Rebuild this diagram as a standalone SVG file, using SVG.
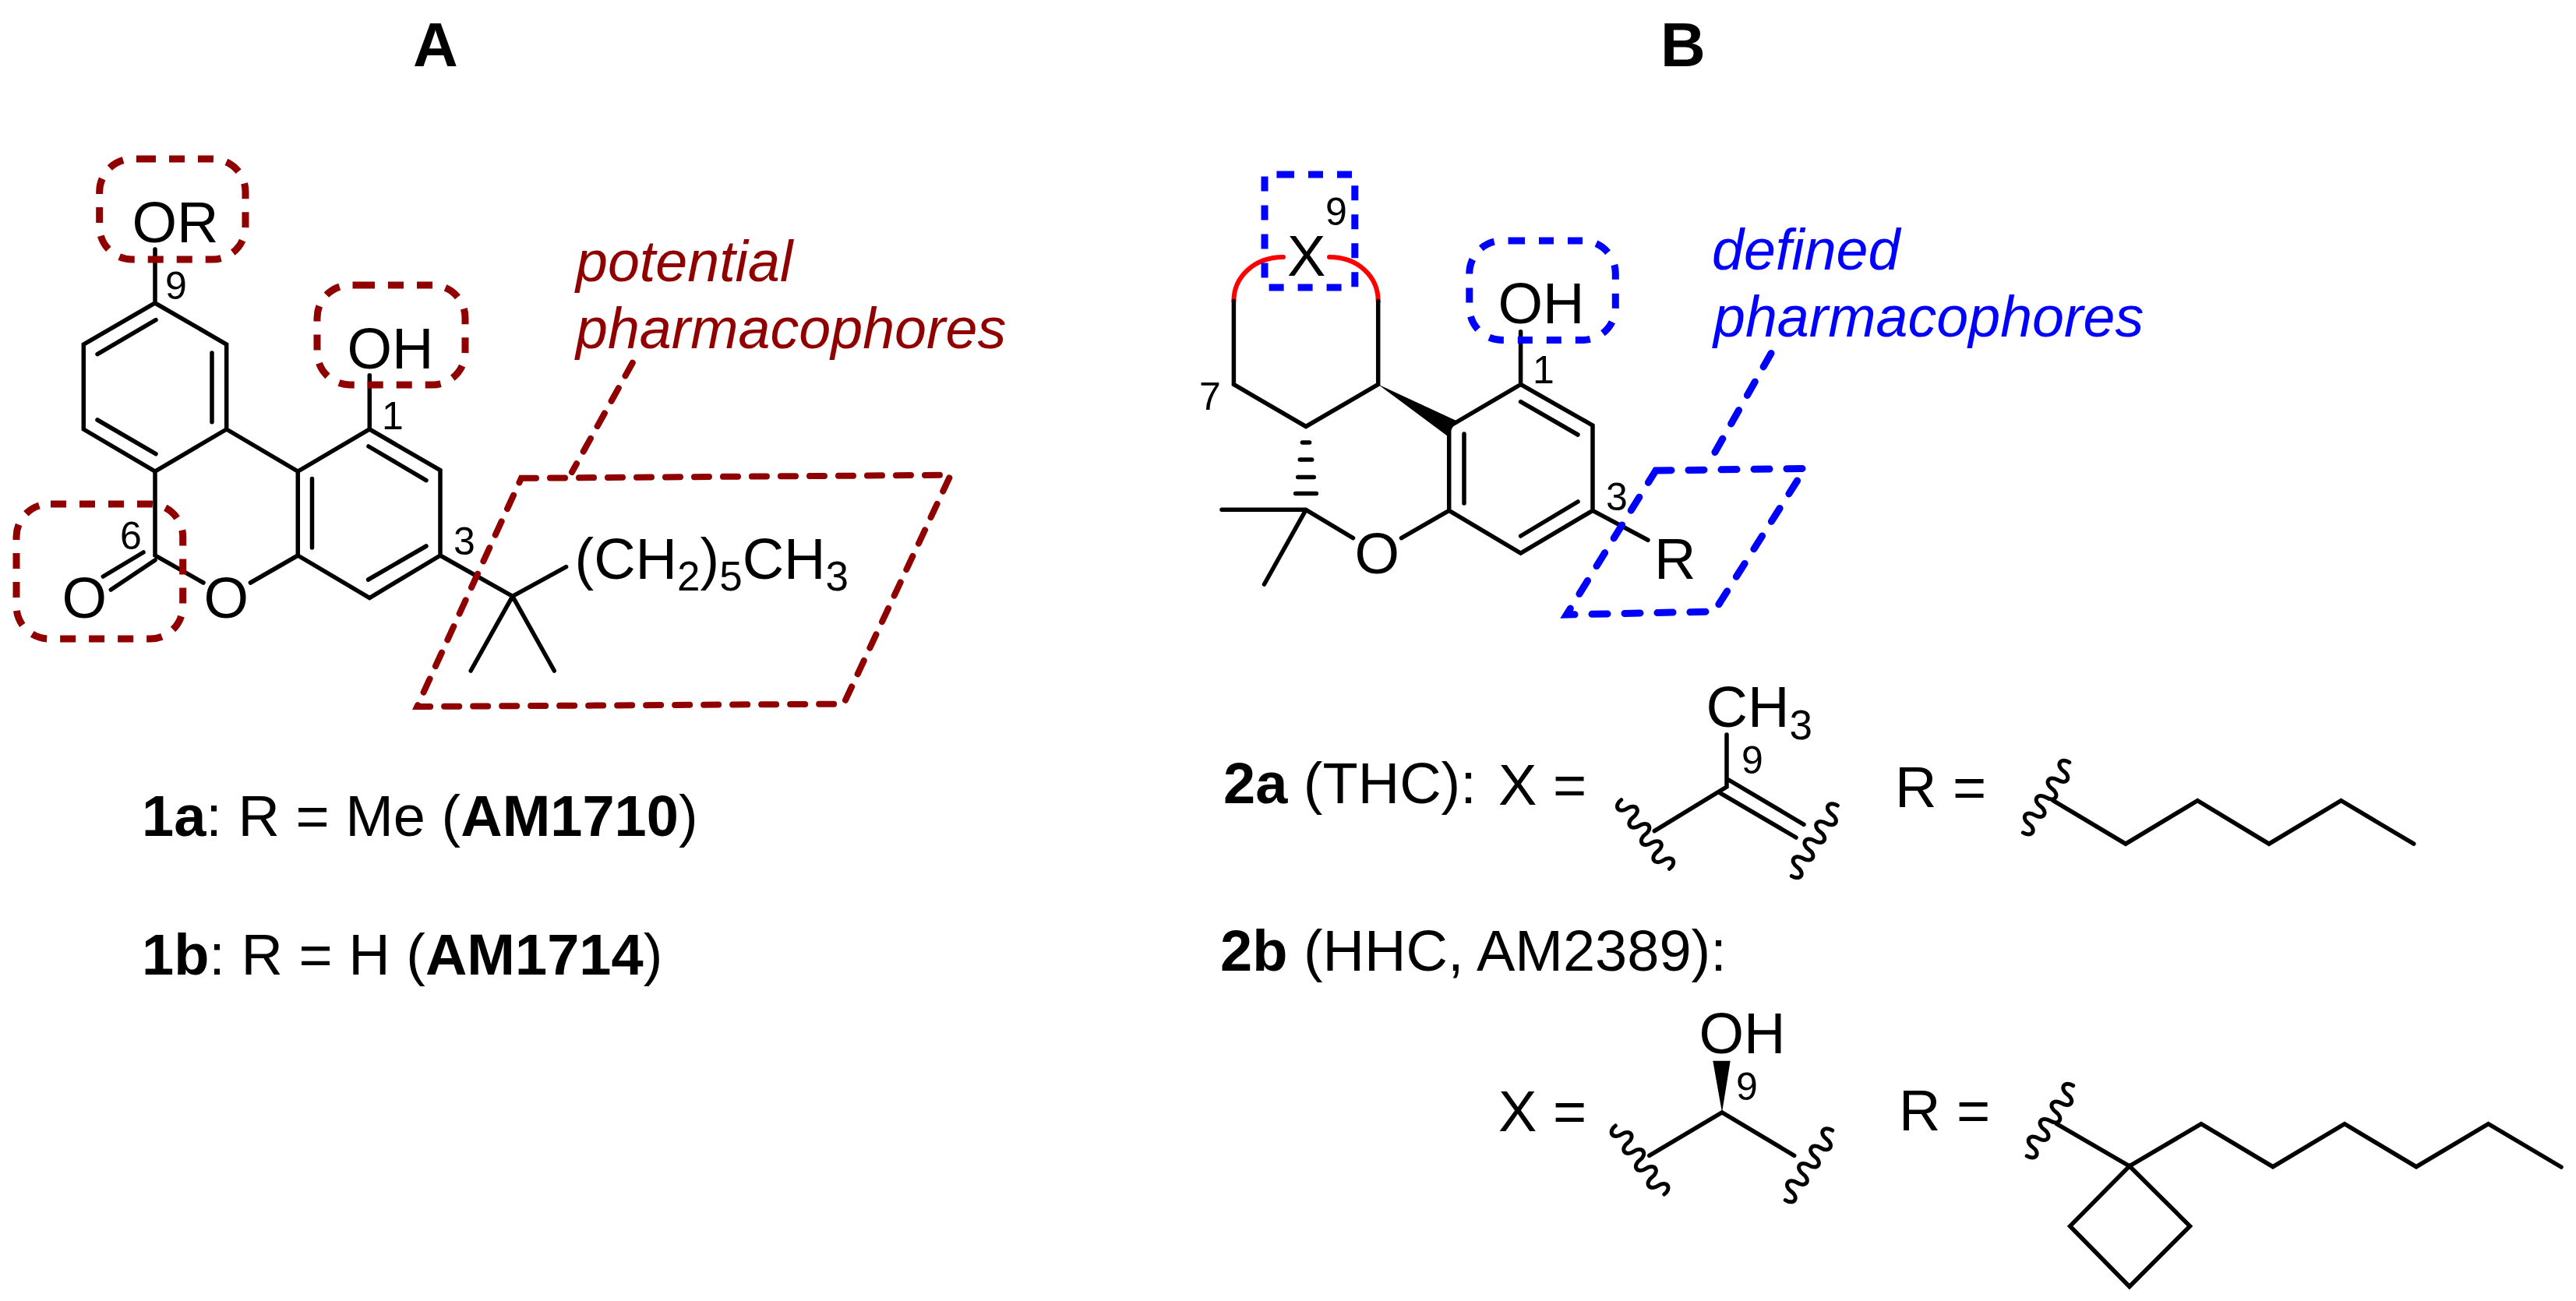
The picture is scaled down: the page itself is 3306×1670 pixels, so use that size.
<svg xmlns="http://www.w3.org/2000/svg" width="3306" height="1670" viewBox="0 0 3306 1670">
<style>
text{font-family:"Liberation Sans",Arial,sans-serif;font-size:74px;fill:#000}
.t{font-weight:bold;font-size:80px;text-anchor:middle}
.n{font-size:50px}
.s{font-size:53px}
.b{font-weight:bold}
.red{fill:#900000;font-style:italic;font-size:73.6px}
.blue{fill:#0000ff;font-style:italic;font-size:73.6px}
.bond{fill:none;stroke:#000;stroke-width:5.5;stroke-linecap:round}
.wv{fill:none;stroke:#000;stroke-width:5;stroke-linecap:round}
.dr{fill:none;stroke:#900000;stroke-width:9;stroke-dasharray:20 17}
.db{fill:none;stroke:#0000ff;stroke-width:9;stroke-dasharray:19 18}
.pr{fill:none;stroke:#900000;stroke-width:8;stroke-dasharray:19 18;stroke-linecap:round}
.pb{fill:none;stroke:#0000ff;stroke-width:9;stroke-dasharray:20 22;stroke-linecap:round}
.arc{fill:none;stroke:#ff0000;stroke-width:6;stroke-linecap:round}
</style>
<defs>
<path id="wave" class="wv" d="M0 0a6.75 10 0 0 0 13.5 0a6.75 10 0 0 1 13.5 0a6.75 10 0 0 0 13.5 0a6.75 10 0 0 1 13.5 0a6.75 10 0 0 0 13.5 0a6.75 10 0 0 1 13.5 0a6.75 10 0 0 0 13.5 0a6.75 10 0 0 1 13.5 0"/>
</defs>
<rect width="3306" height="1670" fill="#fff"/>
<text class="t" x="559" y="85">A</text>
<text class="t" x="2160" y="85">B</text>

<g id="compound-1">
<path class="bond" d="M199 320V389L107.3 442V551L199 605L290.7 551V442L199 389M125 454.7L200 410.7M272 453V541.7M125 539L200 582.7M290.7 551L382.3 605L474.3 551L565 603.7V713L474.3 767.5L382.3 713V605M474.3 481.7V551M473 573L547 616.6M400.5 614.6V703M472.6 744L547 701M199 605V713L261 748M321.4 748L382.3 713M184 709L132.3 740M199 719L142.3 757M565 713L657.8 765.3L726.6 727.6M657.8 765.3L604.2 861M657.8 765.3L711.3 861"/>
<text x="169.5" y="311">OR</text>
<text x="445.5" y="473">OH</text>
<text x="79.5" y="793">O</text>
<text x="261.5" y="793">O</text>
<text x="737.5" y="743">(CH<tspan class="s" dy="15">2</tspan><tspan dy="-15">)</tspan><tspan class="s" dy="15">5</tspan><tspan dy="-15">CH</tspan><tspan class="s" dy="15">3</tspan></text>
<text class="n" x="212" y="384">9</text>
<text class="n" x="490" y="550.5">1</text>
<text class="n" x="154" y="704.6">6</text>
<text class="n" x="582" y="712">3</text>
</g>
<g id="pharmacophores-a">
<path class="dr" d="M180 204H273A42 42 0 0 1 315 246V291A42 42 0 0 1 273 333H169.7A42 42 0 0 1 127.7 291V246A42 42 0 0 1 169.7 204Z"/>
<path class="dr" d="M461 366H555A42 42 0 0 1 597 408V452A42 42 0 0 1 555 494H449A42 42 0 0 1 407 452V408A42 42 0 0 1 449 366Z"/>
<path class="dr" d="M65 647H192.7A42 42 0 0 1 234.7 689V778A42 42 0 0 1 192.7 820H63A42 42 0 0 1 21 778V689A42 42 0 0 1 63 647Z"/>
<path class="pr" d="M669 613.8L1220 609.7L1082.8 903.6L535.3 907ZM811.8 465.8L734 606"/>
<text class="red" x="739" y="361">potential</text>
<text class="red" x="739" y="447">pharmacophores</text>
</g>
<g id="label-1">
<text x="182" y="1073"><tspan class="b">1a</tspan>: R = Me (<tspan class="b">AM1710</tspan>)</text>
<text x="182" y="1251"><tspan class="b">1b</tspan>: R = H (<tspan class="b">AM1714</tspan>)</text>
</g>

<g id="compound-2">
<path class="arc" d="M1583.4 386.4C1583.4 355 1610 330 1647 330M1706 330C1743 330 1768.7 355 1768.7 386.4"/>
<path class="bond" d="M1583.4 386.4V493.5L1676 547.5L1768.7 493.5V386.4M1951.6 425.8V493.5L2044 546V655.4L1951.6 710L1859.7 655.4V547.5L1951.6 493.5M1951.6 515.7L2025 558M1879 557V646M1951.6 688L2025 644M1676 654.3L1736.5 690.6M1798.5 690.6L1859.7 655.4M2044 655.4L2115 693.3M1676 654.3L1622.5 750M1568 654.3H1676"/>
<path d="M1768.7 493.5L1869 540L1858 560Z" fill="#000"/>
<path d="M1671.4 568h9.2M1668.3 590h15.4M1665.7 612.5h20.6M1662.6 633.6h26.8" stroke="#000" stroke-width="5.5" stroke-linecap="round"/>
<text x="1652" y="354">X</text>
<text x="1922.5" y="415">OH</text>
<text x="1738.5" y="736">O</text>
<text x="2123" y="743">R</text>
<text class="n" x="1701" y="289">9</text>
<text class="n" x="1967" y="491.6">1</text>
<text class="n" x="1539" y="526">7</text>
<text class="n" x="2061" y="655.4">3</text>
</g>
<g id="pharmacophores-b">
<path class="db" d="M1642 224H1738.8V369H1623V224Z"/>
<path class="db" d="M1938 309H2031.3A42 42 0 0 1 2073.3 351V394.5A42 42 0 0 1 2031.3 436.5H1927.8A42 42 0 0 1 1885.8 394.5V351A42 42 0 0 1 1927.8 309Z"/>
<path class="pb" d="M2125 604L2316.5 601.4L2200 785L2010.4 789ZM2273 453.5L2195 591"/>
<text class="blue" x="2197" y="346">defined</text>
<text class="blue" x="2199" y="432">pharmacophores</text>
</g>
<g id="substituent-2a">
<text x="1570" y="1031"><tspan class="b">2a</tspan> (THC):</text>
<text x="1923" y="1033">X =</text>
<text x="2432" y="1036">R =</text>
<text x="2189.5" y="933">CH<tspan class="s" dy="16">3</tspan></text>
<text class="n" x="2235" y="993">9</text>
<path class="bond" d="M2216 943V1010L2123.3 1066.7M2216.7 1000L2315 1058.3M2208.3 1018.3L2305 1075M2635 1027.7L2728 1083.2L2820.3 1027.7L2912 1083.2L3004.5 1027.7L3097.8 1083.2"/>
<use href="#wave" transform="translate(2080.7 1026.7) rotate(55.1)"/>
<use href="#wave" transform="translate(2358.3 1034) rotate(123.1)"/>
<use href="#wave" transform="translate(2655.8 978.6) rotate(123.4)"/>
</g>
<g id="substituent-2b">
<text x="1566" y="1246"><tspan class="b">2b</tspan> (HHC, AM2389):</text>
<text x="1923" y="1451.7">X =</text>
<text x="2437" y="1451">R =</text>
<text x="2180.5" y="1351.7">OH</text>
<text class="n" x="2228" y="1411.7">9</text>
<path d="M2210 1428L2198.3 1361.7H2220.7Z" fill="#000"/>
<path class="bond" d="M2116.7 1483.3L2210 1428L2302.7 1483.3M2639.5 1442.7L2732.9 1496.8L2825 1442.7L2917 1497.7L3009 1442.7L3101 1497.7L3193.5 1442.7L3287 1498M2732.9 1496.8L2810.5 1573.9L2732.9 1651.5L2656.7 1573.9Z"/>
<use href="#wave" transform="translate(2073.3 1445) rotate(54.6)"/>
<use href="#wave" transform="translate(2351.7 1451) rotate(124)"/>
<use href="#wave" transform="translate(2660.7 1393.6) rotate(123.4)"/>
</g>
</svg>
